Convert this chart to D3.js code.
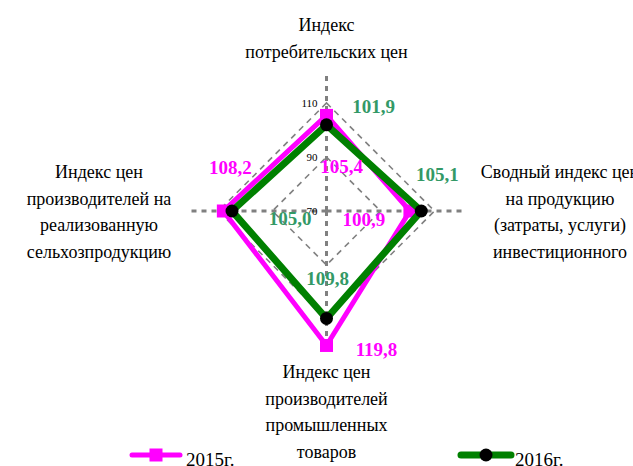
<!DOCTYPE html>
<html>
<head>
<meta charset="utf-8">
<script src="https://cdn.jsdelivr.net/npm/d3@7"></script>
<style>
  html, body { margin: 0; padding: 0; background: #fff; overflow: hidden; }
  svg { display: block; }
</style>
</head>
<body>
<div id="chart"></div>
<script>
const FONT = "'Liberation Serif', 'Times New Roman', serif";

// categories, clockwise from the top
const categories = [
  ['Индекс', 'потребительских цен'],
  ['Сводный индекс цен', 'на продукцию', '(затраты, услуги)', 'инвестиционного'],
  ['Индекс цен', 'производителей', 'промышленных', 'товаров'],
  ['Индекс цен', 'производителей на', 'реализованную', 'сельхозпродукцию']
];
const values2015 = [105.4, 100.9, 119.8, 108.2];
const values2016 = [101.9, 105.1, 109.8, 105.0];
const seriesNames = ['2015г.', '2016г.'];
const ringTicks = [70, 90, 110];

const width = 633, height = 466;
const cx = 326.5, cy = 211;

// label offsets from each point (px)
const offs2015 = [[15, 58], [-46, 15], [50, 11], [7, -37]];
const offs2016 = [[47, -12], [16, -30], [1, -33], [58, 14]];

const svg = d3.select('#chart').append('svg')
  .attr('width', width)
  .attr('height', height)
  .attr('font-family', FONT);

const r = d3.scaleLinear().domain([70, 121]).range([0, 137.7]);
const angle = i => i * Math.PI / 2;
const pt = (v, i) => [cx + r(v) * Math.sin(angle(i)), cy - r(v) * Math.cos(angle(i))];

const g = svg.append('g');

// rings
ringTicks.slice(1).forEach(t => {
  g.append('path')
    .attr('d', d3.line()(categories.map((c, i) => pt(t, i))) + 'Z')
    .attr('fill', 'none')
    .attr('stroke', '#808080')
    .attr('stroke-width', 1.6)
    .attr('stroke-dasharray', '6,5');
});

// axes
categories.forEach((c, i) => {
  const [x2, y2] = pt(121, i);
  g.append('line')
    .attr('x1', cx).attr('y1', cy)
    .attr('x2', x2).attr('y2', y2)
    .attr('stroke', '#808080')
    .attr('stroke-width', 3)
    .attr('stroke-dasharray', '5,5');
});

// tick labels
ringTicks.forEach(t => {
  g.append('text')
    .attr('x', cx - 9)
    .attr('y', pt(t, 0)[1] + 4)
    .attr('text-anchor', 'end')
    .attr('font-size', 11)
    .attr('fill', '#000')
    .text(t);
});

// category labels
const labelAnchors = [[cx, 31], [560, 178], [cx, 378], [99, 178]];
categories.forEach((lines, i) => {
  const t = g.append('text')
    .attr('text-anchor', 'middle')
    .attr('font-size', 18)
    .attr('fill', '#000');
  lines.forEach((ln, j) => {
    t.append('tspan')
      .attr('x', labelAnchors[i][0])
      .attr('y', labelAnchors[i][1] + j * 26.7)
      .text(ln);
  });
});

// series
function drawSeries(values, color, lw, marker) {
  const pts = values.map((v, i) => pt(v, i));
  g.append('path')
    .attr('d', d3.line()(pts) + 'Z')
    .attr('fill', 'none')
    .attr('stroke', color)
    .attr('stroke-width', lw)
    .attr('stroke-linejoin', 'miter');
  pts.forEach(p => marker(g, p[0], p[1]));
}
const square = (sel, x, y) => sel.append('rect')
  .attr('x', x - 6.5).attr('y', y - 6.5)
  .attr('width', 13).attr('height', 13)
  .attr('fill', '#FF00FF');
const dot = (sel, x, y) => sel.append('circle')
  .attr('cx', x).attr('cy', y).attr('r', 6.5)
  .attr('fill', '#000');

drawSeries(values2015, '#FF00FF', 5, square);
drawSeries(values2016, '#008000', 7, dot);

// data labels
function drawLabels(values, offs, color) {
  values.forEach((v, i) => {
    const [x, y] = pt(v, i);
    g.append('text')
      .attr('x', x + offs[i][0])
      .attr('y', y + offs[i][1])
      .attr('text-anchor', 'middle')
      .attr('font-size', 19)
      .attr('font-weight', 'bold')
      .attr('fill', color)
      .text(d3.format('.1f')(v).replace('.', ','));
  });
}
drawLabels(values2015, offs2015, '#FF00FF');
drawLabels(values2016, offs2016, '#339966');

// legend
const leg = svg.append('g');
leg.append('line')
  .attr('x1', 132).attr('x2', 180).attr('y1', 455).attr('y2', 455)
  .attr('stroke', '#FF00FF').attr('stroke-width', 5).attr('stroke-linecap', 'round');
square(leg, 156, 455);
leg.append('text').attr('x', 186).attr('y', 466).attr('font-size', 19).text(seriesNames[0]);

leg.append('line')
  .attr('x1', 461).attr('x2', 511).attr('y1', 455).attr('y2', 455)
  .attr('stroke', '#008000').attr('stroke-width', 7).attr('stroke-linecap', 'round');
dot(leg, 486, 455);
leg.append('text').attr('x', 515).attr('y', 466).attr('font-size', 19).text(seriesNames[1]);
</script>
</body>
</html>
